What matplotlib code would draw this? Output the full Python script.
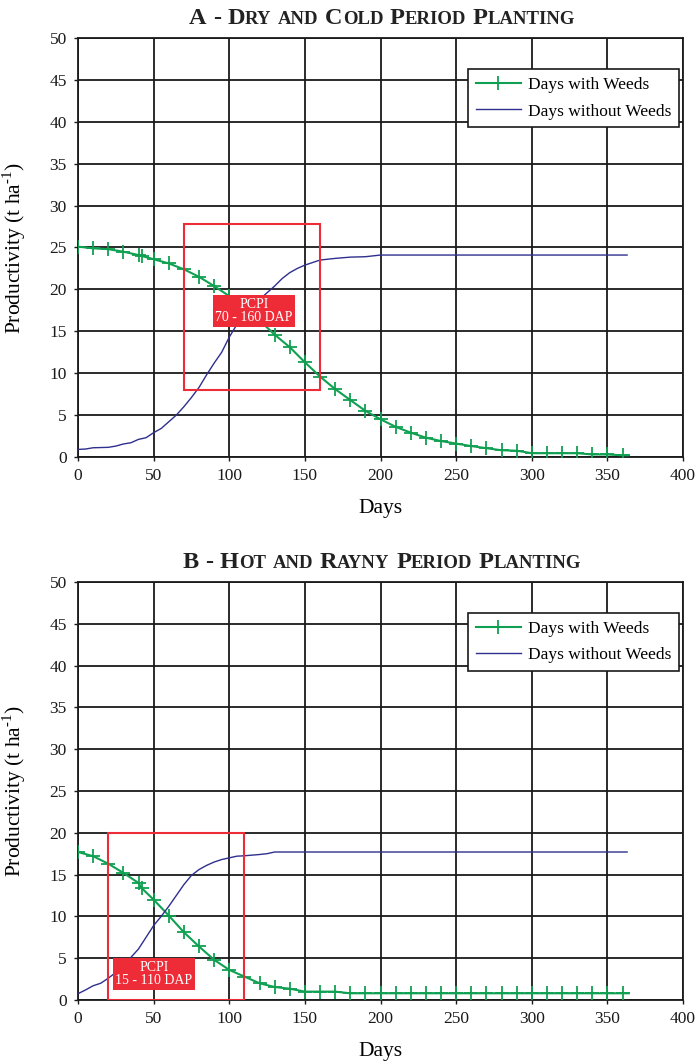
import numpy as np
import matplotlib
matplotlib.use('Agg')
import matplotlib.pyplot as plt
from matplotlib.patches import Rectangle

plt.rcParams['font.family'] = ['Liberation Serif', 'DejaVu Serif']
plt.rcParams['mathtext.fontset'] = 'custom'
plt.rcParams['mathtext.rm'] = 'Liberation Serif'

# Panel A - dry and cold period
days_weeds_a = [0, 10, 20, 30, 40, 42, 50, 60, 70, 80, 90, 100, 110, 120, 130, 140, 150, 160, 170, 180,
                190, 200, 210, 220, 230, 240, 250, 260, 270, 280, 290, 300, 310, 320, 330, 340, 350, 360, 364]
prod_weeds_a = [25.1, 24.9, 24.8, 24.5, 24.1, 24.0, 23.6, 23.1, 22.4, 21.5, 20.4, 19.2, 17.9, 16.3, 14.6, 13.1,
                11.3, 9.6, 8.1, 6.8, 5.5, 4.5, 3.6, 2.9, 2.3, 1.9, 1.6, 1.3, 1.05, 0.8, 0.75, 0.45, 0.45, 0.45,
                0.45, 0.3, 0.3, 0.2, 0.2]
days_clean_a = [0, 5, 10, 20, 25, 30, 35, 40, 45, 50, 55, 60, 65, 70, 75, 80, 85, 90, 95, 100, 105, 110,
                115, 120, 125, 130, 135, 140, 145, 150, 155, 160, 165, 170, 180, 190, 200, 363]
prod_clean_a = [0.9, 0.95, 1.1, 1.15, 1.3, 1.55, 1.7, 2.1, 2.3, 2.9, 3.4, 4.2, 5.0, 6.0, 7.1, 8.3, 9.8, 11.2,
                12.5, 14.3, 15.8, 17.1, 18.0, 18.8, 19.6, 20.4, 21.3, 22.0, 22.5, 22.9, 23.2, 23.5, 23.6, 23.7,
                23.85, 23.9, 24.1, 24.1]

# Panel B - hot and rainy period
days_weeds_b = [0, 10, 20, 30, 40, 42, 50, 60, 70, 80, 90, 100, 110, 120, 130, 140, 150, 160, 170, 180,
                190, 200, 210, 220, 230, 240, 250, 260, 270, 280, 290, 300, 310, 320, 330, 340, 350, 360, 364]
prod_weeds_b = [17.7, 17.2, 16.3, 15.2, 14.0, 13.4, 12.0, 10.1, 8.1, 6.4, 4.8, 3.6, 2.8, 2.0, 1.55, 1.35,
                1.0, 1.0, 1.0, 0.8, 0.8, 0.8, 0.8, 0.8, 0.8, 0.8, 0.8, 0.8, 0.8, 0.8, 0.8, 0.8, 0.8, 0.8,
                0.8, 0.8, 0.8, 0.8, 0.8]
days_clean_b = [0, 5, 10, 15, 20, 25, 30, 35, 40, 45, 50, 55, 60, 65, 70, 75, 80, 85, 90, 95, 100, 105,
                110, 120, 125, 130, 363]
prod_clean_b = [0.75, 1.2, 1.7, 2.0, 2.6, 3.3, 4.1, 5.1, 6.1, 7.5, 8.9, 10.0, 11.2, 12.5, 13.8, 14.9, 15.6,
                16.1, 16.5, 16.8, 17.0, 17.2, 17.25, 17.4, 17.5, 17.7, 17.7]

# critical period (days, productivity range of the box) and label
pcpi_a = (70, 160, 8.0, 27.8)
pcpi_b = (20, 110, 0.0, 20.0)
label_a = 'PCPI\n70 - 160 DAP'
label_b = 'PCPI\n15 - 110 DAP'

GREEN = '#10A052'
BLUE = '#2E2F8E'
RED = '#EE2C38'

fig = plt.figure(figsize=(6.97, 10.62), dpi=100)
ax_a = fig.add_axes([0.1119, 0.5697, 0.8681, 0.3945])
ax_b = fig.add_axes([0.1119, 0.0584, 0.8681, 0.3936])


def draw_panel(ax, dw, pw, dc, pc, box, label, lab_box):
    ax.plot(dw, pw, color=GREEN, lw=1.5, marker='+', ms=10, mew=1.3,
            markevery=list(range(len(dw) - 1)), label='Days with Weeds', zorder=3)
    ax.plot(dc, pc, color=BLUE, lw=1.0, label='Days without Weeds', zorder=3)
    x0, x1, y0, y1 = box
    ax.add_patch(Rectangle((x0, y0), x1 - x0, y1 - y0, fill=False, ec=RED, lw=1.5, zorder=4))
    lx0, lx1, ly0, ly1 = lab_box
    ax.add_patch(Rectangle((lx0, ly0), lx1 - lx0, ly1 - ly0, fc=RED, ec='none', zorder=5))
    ax.text((lx0 + lx1) / 2, (ly0 + ly1) / 2, label, color='white', fontsize=10, ha='center',
            va='center', linespacing=1.05, zorder=6)
    ax.set_xlim(0, 400)
    ax.set_ylim(0, 50)
    ax.set_xticks(np.arange(0, 401, 50))
    ax.set_yticks(np.arange(0, 51, 5))
    ax.grid(True, color='#1a1a1a', lw=1.3, zorder=0)
    ax.set_axisbelow(True)
    for s in ax.spines.values():
        s.set_color('#1a1a1a')
        s.set_linewidth(1.3)
    ax.tick_params(labelsize=12.5, length=3, width=1.0, colors='#1a1a1a', pad=5)
    ax.set_xlabel('Days', fontsize=15.5)
    ax.set_ylabel('Productivity (t ha$^{\\mathregular{\u2010}1}$)', fontsize=15.5)
    ax.xaxis.set_label_coords(0.5, -0.1)
    ax.yaxis.set_label_coords(-0.083, 0.5)
    leg = ax.legend(loc='upper right', bbox_to_anchor=(0.993, 0.926), fontsize=12.5, frameon=True,
                    fancybox=False, edgecolor='#1a1a1a', framealpha=1, handlelength=2.6,
                    borderpad=0.45, labelspacing=0.6, handletextpad=0.4, borderaxespad=0)
    leg.get_frame().set_linewidth(1.2)


draw_panel(ax_a, days_weeds_a, prod_weeds_a, days_clean_a, prod_clean_a, pcpi_a, label_a,
           (89.3, 143.5, 15.5, 19.3))
draw_panel(ax_b, days_weeds_b, prod_weeds_b, days_clean_b, prod_clean_b, pcpi_b, label_b,
           (23.0, 77.3, 1.2, 5.0))


def smallcaps(text, xc_px, y_px, big, small):
    # fake small caps: lowercase letters drawn as smaller capitals
    runs = []
    for ch in text:
        if ch == ' ':
            runs.append([' ', None])
            continue
        size = small if ch.islower() else big
        if runs and runs[-1][1] == size:
            runs[-1][0] += ch.upper()
        else:
            runs.append([ch.upper(), size])
    r = fig.canvas.get_renderer()
    items = []
    for t, sz in runs:
        if sz is None:
            items.append((None, 0.27 * big * fig.dpi / 72))
        else:
            tx = fig.text(0, 0, t, fontsize=sz, fontweight='bold', color='#222222', va='baseline')
            items.append((tx, tx.get_window_extent(r).width))
    W = sum(w for _, w in items)
    x = xc_px - W / 2
    H = fig.bbox.height
    for tx, w in items:
        if tx is not None:
            tx.set_position((x / fig.bbox.width, 1 - y_px / H))
        x += w


smallcaps('A - Dry and Cold Period Planting', 382, 24, 17.5, 13.5)
smallcaps('B - Hot and Rayny Period Planting', 382, 568, 17.5, 13.5)

plt.savefig('out.png', dpi=100)
